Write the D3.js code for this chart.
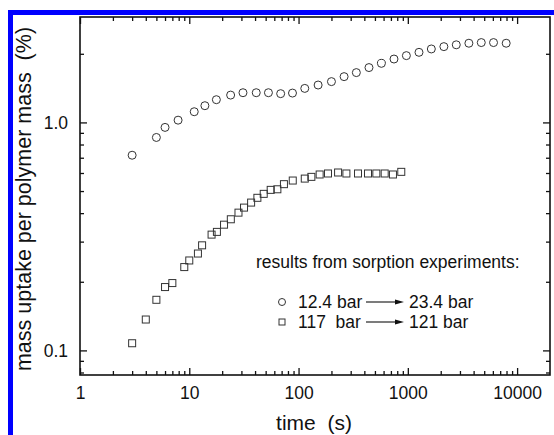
<!DOCTYPE html>
<html>
    <head>
        <title>Sorption uptake</title>
        <script type="text/javascript" src="https://cdn.jsdelivr.net/npm/d3@7/dist/d3.min.js"></script>
        <style>
            body { margin: 0; background: white; }
            text { font-family: "Liberation Sans", Arial, sans-serif; fill: #111; }
        </style>
    </head>
    <body>
        <script type="text/javascript">
            // 12.4 bar -> 23.4 bar (circles)
            let circleTime = [3, 5, 6, 7.9, 11.1, 13.9, 17.7, 23.9, 31, 41, 53, 68.6, 88, 114, 151, 200, 261, 338, 441, 573, 747, 970, 1265, 1641, 2138, 2775, 3620, 4700, 6085, 7943]
            let circleUptake = [0.718, 0.859, 0.951, 1.023, 1.114, 1.184, 1.258, 1.318, 1.35, 1.35, 1.35, 1.337, 1.345, 1.41, 1.459, 1.51, 1.588, 1.654, 1.74, 1.816, 1.897, 1.963, 2.03, 2.10, 2.15, 2.19, 2.225, 2.24, 2.24, 2.225]

            // 117 bar -> 121 bar (squares)
            let squareTime = [3, 4, 5, 6, 7, 9, 10, 12, 13.1, 16, 17.9, 20.8, 24, 28.2, 31.7, 36.8, 42, 48, 55.6, 64, 73.5, 88.5, 114, 131, 156, 186, 230, 274, 350, 432, 515, 614, 731, 871]
            let squareUptake = [0.1075, 0.1366, 0.1667, 0.1896, 0.1974, 0.232, 0.248, 0.266, 0.289, 0.322, 0.331, 0.356, 0.376, 0.402, 0.423, 0.445, 0.467, 0.486, 0.506, 0.509, 0.536, 0.556, 0.567, 0.577, 0.591, 0.597, 0.603, 0.597, 0.597, 0.597, 0.597, 0.597, 0.591, 0.607]

            let xTicks = [1, 10, 100, 1000, 10000]
            let xTickLabels = ["1", "10", "100", "1000", "10000"]
            let yTicks = [0.1, 1]
            let yTickLabels = ["0.1", "1.0"]

            let legendTitle = "results from sorption experiments:"
            let legendFrom = ["12.4 bar", "117  bar"]
            let legendTo = ["23.4 bar", "121 bar"]

            let w = 554
            let h = 435
            let pLeft = 80, pRight = 550, pTop = 17, pBottom = 375

            let svg = d3.select("body")
                        .append("svg")
                        .attr("width", w)
                        .attr("height", h)

            // blue page border
            svg.append("rect").attr("x", 8).attr("y", 10).attr("width", w - 8).attr("height", 5).attr("fill", "#0000ff")
            svg.append("rect").attr("x", 8).attr("y", 10).attr("width", 5).attr("height", h - 10).attr("fill", "#0000ff")

            let x_scale = d3.scaleLog().domain([1, 20000]).range([pLeft, pRight])
            let y_scale = d3.scaleLog().domain([0.078, 2.9]).range([pBottom, pTop])

            // minor tick values
            let xMinor = []
            for (let d = 1; d < 20000; d *= 10) {
                for (let k = 2; k <= 9; k++) { if (d * k < 20000) xMinor.push(d * k) }
            }
            let yMinor = [0.08, 0.09, 0.2, 0.3, 0.4, 0.5, 0.6, 0.7, 0.8, 0.9, 2]

            let fmtX = (d) => xTickLabels[xTicks.indexOf(d)]
            let fmtY = (d) => yTickLabels[yTicks.indexOf(d)]

            function drawAxes(axisFn, scale, major, minor, transform, labelled, fmt) {
                let g = svg.append("g").attr("class", "axis").attr("transform", transform)
                g.append("g").call(axisFn(scale).tickValues(minor).tickSize(-4).tickFormat(""))
                g.append("g").call(axisFn(scale).tickValues(major).tickSize(-7).tickPadding(labelled ? 12 : 0)
                        .tickFormat(labelled ? fmt : ""))
                return g
            }

            drawAxes(d3.axisBottom, x_scale, xTicks, xMinor, "translate(0," + pBottom + ")", true, fmtX)
            drawAxes(d3.axisTop, x_scale, xTicks, xMinor, "translate(0," + pTop + ")", false, fmtX)
            drawAxes(d3.axisLeft, y_scale, yTicks, yMinor, "translate(" + pLeft + ",0)", true, fmtY)
            drawAxes(d3.axisRight, y_scale, yTicks, yMinor, "translate(" + pRight + ",0)", false, fmtY)

            svg.selectAll(".axis .domain").remove()
            svg.selectAll(".axis line").attr("stroke", "#111").attr("stroke-width", 1.3)
            svg.selectAll(".axis text").attr("font-size", 17.5).attr("fill", "#111")
                .attr("font-family", "Liberation Sans, Arial, sans-serif")

            svg.append("rect")
               .attr("x", pLeft).attr("y", pTop)
               .attr("width", pRight - pLeft).attr("height", pBottom - pTop)
               .attr("fill", "none").attr("stroke", "#111").attr("stroke-width", 1.6)

            // data
            let circles = circleTime.map((t, i) => ({ t: t, v: circleUptake[i] }))
            let squares = squareTime.map((t, i) => ({ t: t, v: squareUptake[i] }))

            svg.selectAll("circle.pt")
               .data(circles)
               .enter()
               .append("circle")
               .attr("class", "pt")
               .attr("cx", (d) => x_scale(d.t))
               .attr("cy", (d) => y_scale(d.v))
               .attr("r", 4)
               .attr("fill", "none")
               .attr("stroke", "#333")
               .attr("stroke-width", 1)

            svg.selectAll("rect.pt")
               .data(squares)
               .enter()
               .append("rect")
               .attr("class", "pt")
               .attr("x", (d) => x_scale(d.t) - 3.5)
               .attr("y", (d) => y_scale(d.v) - 3.5)
               .attr("width", 7)
               .attr("height", 7)
               .attr("fill", "none")
               .attr("stroke", "#333")
               .attr("stroke-width", 1)

            // axis titles
            svg.append("text")
               .attr("x", 314)
               .attr("y", 430)
               .attr("text-anchor", "middle")
               .attr("font-size", 21)
               .style("white-space", "pre")
               .text("time  (s)")

            svg.append("text")
               .attr("transform", "translate(31,199) rotate(-90)")
               .attr("text-anchor", "middle")
               .attr("font-size", 21.5)
               .style("white-space", "pre")
               .text("mass uptake per polymer mass  (%)")

            // legend
            let lg = svg.append("g")
            lg.append("text").attr("x", 256).attr("y", 268).attr("font-size", 17.5).text(legendTitle)
            let rowY = [302, 322]
            lg.append("circle").attr("cx", 282).attr("cy", rowY[0]).attr("r", 3.5)
              .attr("fill", "none").attr("stroke", "#333").attr("stroke-width", 1)
            lg.append("rect").attr("x", 279).attr("y", rowY[1] - 3).attr("width", 6).attr("height", 6)
              .attr("fill", "none").attr("stroke", "#333").attr("stroke-width", 1)
            for (let i = 0; i < 2; i++) {
                lg.append("text").attr("x", 298).attr("y", rowY[i] + 6).attr("font-size", 17.5)
                  .style("white-space", "pre").text(legendFrom[i])
                lg.append("line").attr("x1", 366).attr("x2", 396).attr("y1", rowY[i]).attr("y2", rowY[i])
                  .attr("stroke", "#111").attr("stroke-width", 1.1)
                lg.append("path").attr("d", "M395," + (rowY[i] - 2.5) + "L404," + rowY[i] + "L395," + (rowY[i] + 2.5) + "Z")
                  .attr("fill", "#111")
                lg.append("text").attr("x", 409).attr("y", rowY[i] + 6).attr("font-size", 17.5)
                  .text(legendTo[i])
            }
        </script>
    </body>
</html>
